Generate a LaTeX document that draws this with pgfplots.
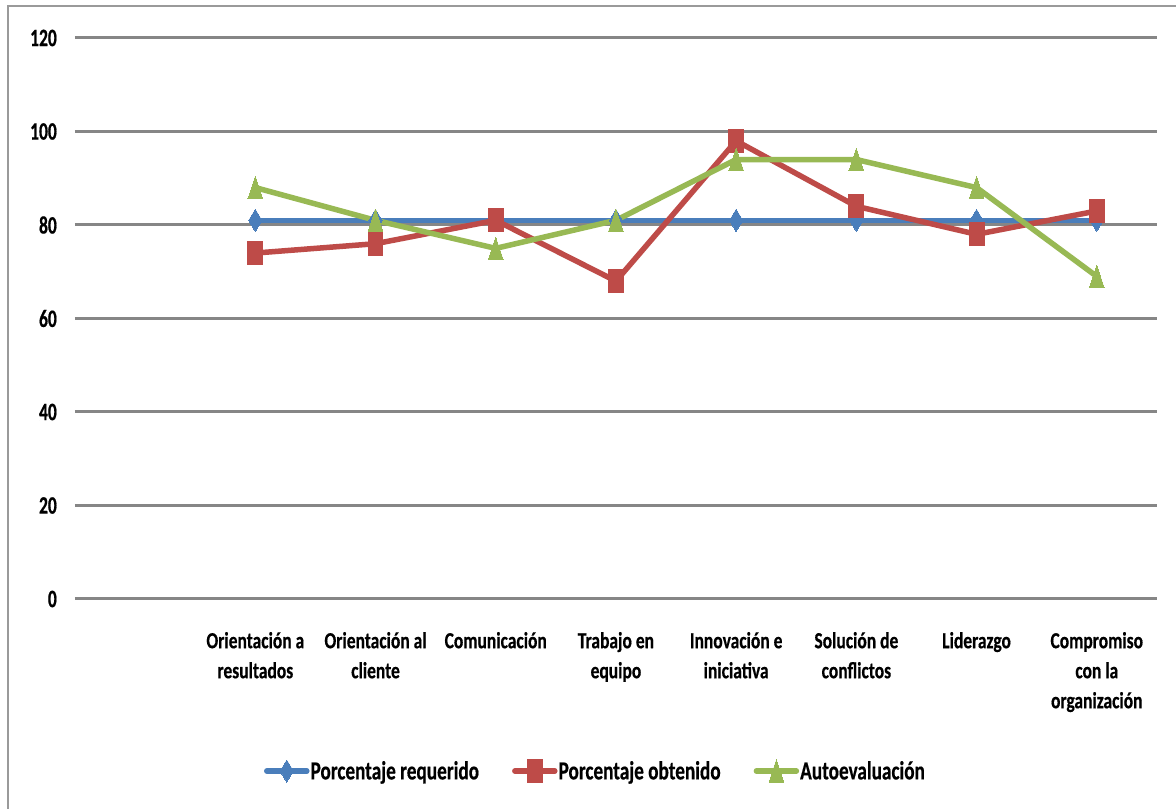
\documentclass[border=0pt]{standalone}
\usepackage{pgfplots}
\pgfplotsset{compat=1.18}
\usepackage{fontspec}
\setmainfont{Carlito}
\newfontfamily\yfont{Carlito}[FakeStretch=0.70, BoldFeatures={FakeBold=0.6}]
\newfontfamily\xfont{Carlito}[FakeStretch=0.76, BoldFeatures={FakeBold=0.5}]
\newfontfamily\lfont{Carlito}[FakeStretch=0.74, BoldFeatures={FakeBold=0.5}]

\definecolor{reqblue}{HTML}{4A7EBB}
\definecolor{obtred}{HTML}{BE4B48}
\definecolor{autogreen}{HTML}{98B954}
\definecolor{gridgray}{HTML}{868686}
\definecolor{framegray}{HTML}{9A9A9A}

\begin{document}
\begin{tikzpicture}
\useasboundingbox (0,0) rectangle (1176pt,809pt);
\fill[white] (0,0) rectangle (1176pt,809pt);
% chart frame (top and left edges)
\draw[framegray, line width=2pt] (7.5pt,-2pt) -- (7.5pt,803pt) -- (1180pt,803pt);
\begin{axis}[
  at={(75pt,210pt)}, anchor=south west,
  scale only axis, width=1082pt, height=561pt,
  xmin=-0.5, xmax=8.5, ymin=0, ymax=120,
  ytick={0,20,...,120},
  xtick={1,...,8},
  xticklabels={
    {\strut Orientación a\\\strut resultados},
    {\strut Orientación al\\\strut cliente},
    {\strut Comunicación},
    {\strut Trabajo en\\\strut equipo},
    {\strut Innovación e\\\strut iniciativa},
    {\strut Solución de\\\strut conflictos},
    {\strut Liderazgo},
    {\strut Compromiso\\\strut con la\\\strut organización}},
  axis line style={draw=none},
  major tick length=0pt,
  ymajorgrids,
  grid style={gridgray, line width=3pt},
  /pgf/number format/assume math mode=true,
  yticklabel style={font=\yfont\bfseries\fontsize{25}{25}\selectfont,
    anchor=east, inner sep=0pt, xshift=-18pt},
  xticklabel style={font=\xfont\bfseries\fontsize{23}{30}\selectfont,
    align=center, anchor=north, inner sep=0pt, yshift=-28pt},
  every axis plot/.append style={line width=5.5pt, line join=round, line cap=round},
  legend columns=3,
  legend style={draw=none, fill=none, at={(0.4806,-0.3066)}, anchor=center,
    font=\lfont\bfseries\fontsize{26}{26}\selectfont,
    nodes={inner sep=1pt},
    /tikz/every even column/.append style={column sep=32pt}},
  legend image code/.code={
    \draw[#1, mark repeat=2, mark phase=2]
      plot coordinates {(0pt,0pt) (20pt,0pt) (40pt,0pt)};},
  clip=false,
]
\addplot[reqblue, mark=diamond*, mark size=11pt,
  mark options={solid, xscale=0.8, line width=0pt}]
  coordinates {(1,81) (2,81) (3,81) (4,81) (5,81) (6,81) (7,81) (8,81)};
\addlegendentry{Porcentaje requerido}
\addplot[obtred, mark=square*, mark size=11.5pt,
  mark options={solid, xscale=0.65, line width=0pt}]
  coordinates {(1,74) (2,76) (3,81) (4,68) (5,98) (6,84) (7,78) (8,83)};
\addlegendentry{Porcentaje obtenido}
\addplot[autogreen, mark=triangle*, mark size=15pt,
  mark options={solid, xscale=0.57, yshift=-3.8pt, line width=0pt}]
  coordinates {(1,88) (2,81) (3,75) (4,81) (5,94) (6,94) (7,88) (8,69)};
\addlegendentry{Autoevaluación}
\end{axis}
\end{tikzpicture}
\end{document}
